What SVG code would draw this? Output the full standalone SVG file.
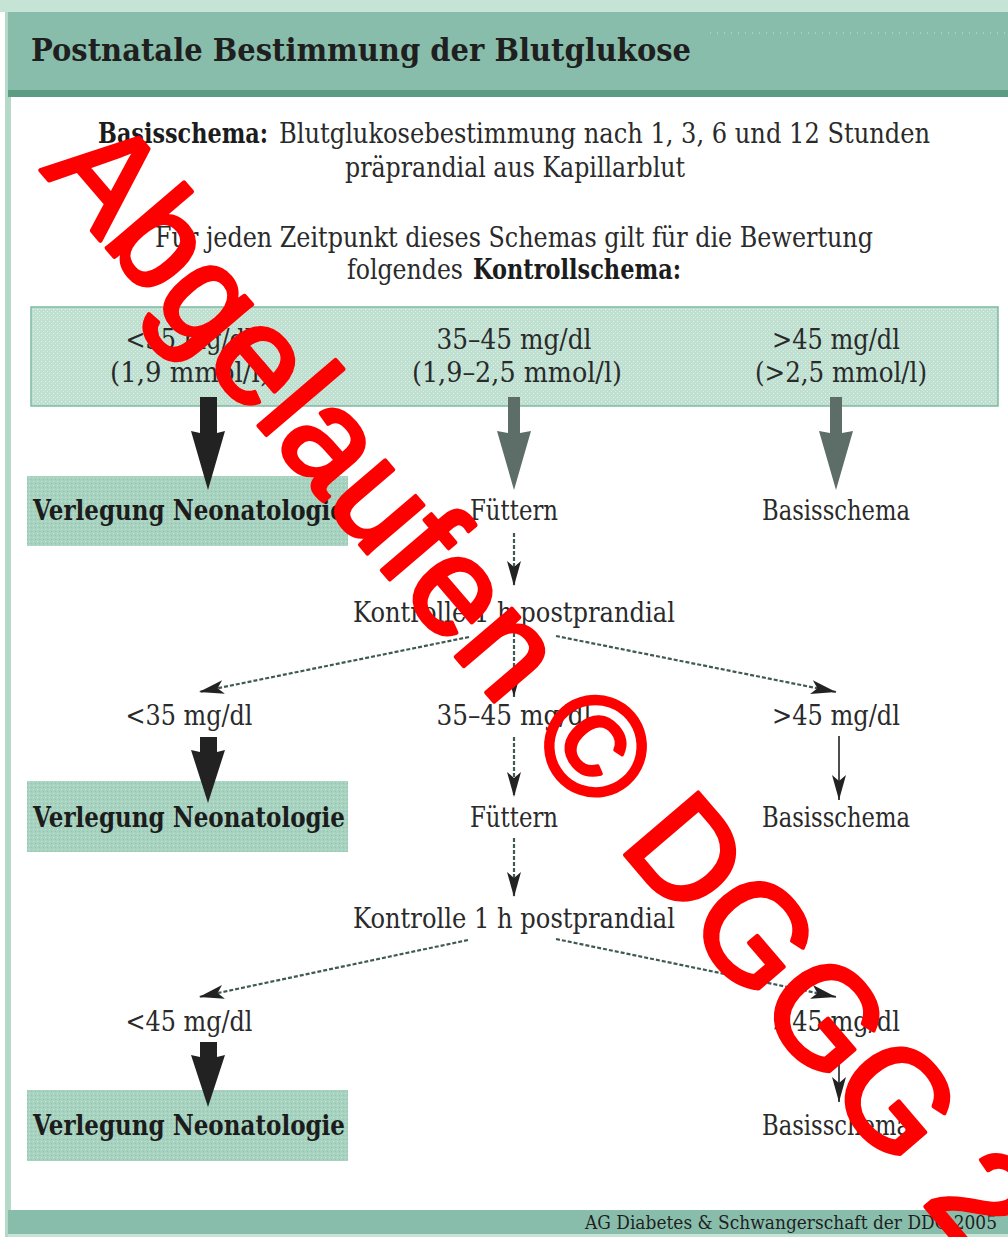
<svg xmlns="http://www.w3.org/2000/svg" width="1008" height="1237" viewBox="0 0 1008 1237">
  <style>
    .t { font-family: "DejaVu Serif", "Liberation Serif", serif; font-size: 28px; fill: #2a2a2a; }
    .c { text-anchor: middle; }
    .b { font-weight: bold; fill: #1c1c1c; }
    .h { font-family: "DejaVu Serif", "Liberation Serif", serif; font-size: 32px; font-weight: bold; fill: #1f1f1f; }
    .f { font-family: "DejaVu Serif", "Liberation Serif", serif; font-size: 19px; fill: #1f1f1f; }
    .dash { stroke: #3f5a52; stroke-width: 2.2; stroke-dasharray: 4 2; fill: none; }
    .thin { stroke: #222; stroke-width: 1.6; fill: none; }
    .dark { fill: #222; }
    .gray { fill: #5d6d68; }
    .wm { font-family: "Liberation Sans", Arial, sans-serif; font-size: 140px; fill: #ff0000; stroke: #ff0000; stroke-width: 4; stroke-linejoin: round; }
  </style>
  <defs>
    <pattern id="dotsLight" width="4" height="4" patternUnits="userSpaceOnUse">
      <rect width="4" height="4" fill="#bfe0d1"/>
      <rect x="1" y="1" width="1" height="1" fill="#e6f4ed"/>
      <rect x="3" y="3" width="1" height="1" fill="#d8ede3"/>
    </pattern>
    <pattern id="dotsBox" width="4" height="4" patternUnits="userSpaceOnUse">
      <rect width="4" height="4" fill="#a7d2bf"/>
      <rect x="1" y="1" width="1" height="1" fill="#c6e4d6"/>
      <rect x="3" y="3" width="1" height="1" fill="#93c4ae"/>
    </pattern>
    <marker id="ah" viewBox="-26 -8 27 16" refX="0" refY="0" markerWidth="27" markerHeight="16" orient="auto" markerUnits="userSpaceOnUse">
      <path d="M0,0 L-25,-7 L-19,0 L-25,7 Z" fill="#222"/>
    </marker>
  </defs>

  <!-- frame -->
  <rect x="0" y="0" width="1008" height="1237" fill="#ffffff"/>
  <rect x="0" y="0" width="1008" height="12" fill="#c6e4d6"/>
  <rect x="5" y="12" width="6" height="1225" fill="#b5d9c9"/>
  <g id="header">
    <rect x="8" y="12" width="1000" height="79" fill="#89bdab"/>
    <rect x="8" y="90" width="1000" height="7" fill="#5b9c83"/>
    <line x1="710" y1="33" x2="1008" y2="33" stroke="#b3d8c8" stroke-width="1.5" stroke-dasharray="1 6"/>
    <text class="h" x="31" y="61" textLength="660" lengthAdjust="spacingAndGlyphs">Postnatale Bestimmung der Blutglukose</text>
  </g>

  <g id="intro">
    <text class="t b" x="98" y="143" textLength="170" lengthAdjust="spacingAndGlyphs">Basisschema:</text>
    <text class="t" x="279" y="143" textLength="651" lengthAdjust="spacingAndGlyphs">Blutglukosebestimmung nach 1, 3, 6 und 12 Stunden</text>
    <text class="t" x="345" y="177" textLength="340" lengthAdjust="spacingAndGlyphs">präprandial aus Kapillarblut</text>
    <text class="t" x="155" y="247" textLength="718" lengthAdjust="spacingAndGlyphs">Für jeden Zeitpunkt dieses Schemas gilt für die Bewertung</text>
    <text class="t" x="347" y="279" textLength="116" lengthAdjust="spacingAndGlyphs">folgendes</text>
    <text class="t b" x="473" y="279" textLength="208" lengthAdjust="spacingAndGlyphs">Kontrollschema:</text>
  </g>

  <g id="kontrollschema">
    <rect x="31" y="307" width="967" height="99" fill="url(#dotsLight)" stroke="#7fb9a1" stroke-width="1.5"/>
    <text class="t c" x="189" y="349" textLength="127" lengthAdjust="spacingAndGlyphs">&lt;35 mg/dl</text>
    <text class="t c" x="190" y="382" textLength="160" lengthAdjust="spacingAndGlyphs">(1,9 mmol/l)</text>
    <text class="t c" x="514" y="349" textLength="155" lengthAdjust="spacingAndGlyphs">35–45 mg/dl</text>
    <text class="t c" x="517" y="382" textLength="210" lengthAdjust="spacingAndGlyphs">(1,9–2,5 mmol/l)</text>
    <text class="t c" x="836" y="349" textLength="128" lengthAdjust="spacingAndGlyphs">&gt;45 mg/dl</text>
    <text class="t c" x="841" y="382" textLength="172" lengthAdjust="spacingAndGlyphs">(&gt;2,5 mmol/l)</text>
  </g>

  <g id="verlegung1">
    <rect x="27" y="476" width="321" height="70" fill="url(#dotsBox)"/>
    <text class="t b" x="33" y="520" textLength="312" lengthAdjust="spacingAndGlyphs">Verlegung Neonatologie</text>
  </g>
  <g id="fuettern1"><text class="t c" x="514" y="520" textLength="88" lengthAdjust="spacingAndGlyphs">Füttern</text></g>
  <g id="basisschema1"><text class="t c" x="836" y="520" textLength="148" lengthAdjust="spacingAndGlyphs">Basisschema</text></g>

  <g id="kontrolle1"><text class="t c" x="514" y="622" textLength="322" lengthAdjust="spacingAndGlyphs">Kontrolle 1 h postprandial</text></g>

  <g id="lt35"><text class="t c" x="189" y="725" textLength="127" lengthAdjust="spacingAndGlyphs">&lt;35 mg/dl</text></g>
  <g id="r3545"><text class="t c" x="514" y="725" textLength="155" lengthAdjust="spacingAndGlyphs">35–45 mg/dl</text></g>
  <g id="gt45a"><text class="t c" x="836" y="725" textLength="128" lengthAdjust="spacingAndGlyphs">&gt;45 mg/dl</text></g>

  <g id="verlegung2">
    <rect x="27" y="781" width="321" height="71" fill="url(#dotsBox)"/>
    <text class="t b" x="33" y="827" textLength="312" lengthAdjust="spacingAndGlyphs">Verlegung Neonatologie</text>
  </g>
  <g id="fuettern2"><text class="t c" x="514" y="827" textLength="88" lengthAdjust="spacingAndGlyphs">Füttern</text></g>
  <g id="basisschema2"><text class="t c" x="836" y="827" textLength="148" lengthAdjust="spacingAndGlyphs">Basisschema</text></g>

  <g id="kontrolle2"><text class="t c" x="514" y="928" textLength="322" lengthAdjust="spacingAndGlyphs">Kontrolle 1 h postprandial</text></g>

  <g id="lt45"><text class="t c" x="189" y="1031" textLength="127" lengthAdjust="spacingAndGlyphs">&lt;45 mg/dl</text></g>
  <g id="gt45b"><text class="t c" x="836" y="1031" textLength="128" lengthAdjust="spacingAndGlyphs">&gt;45 mg/dl</text></g>

  <g id="verlegung3">
    <rect x="27" y="1090" width="321" height="71" fill="url(#dotsBox)"/>
    <text class="t b" x="33" y="1135" textLength="312" lengthAdjust="spacingAndGlyphs">Verlegung Neonatologie</text>
  </g>
  <g id="basisschema3"><text class="t c" x="836" y="1135" textLength="148" lengthAdjust="spacingAndGlyphs">Basisschema</text></g>

  <g id="connectors">
    <polygon class="dark" points="200,397 217,397 217,433 225,431 208,490 191,431 200,433"/>
    <polygon class="gray" points="508,397 520,397 520,433 531,431 514,490 497,431 508,433"/>
    <polygon class="gray" points="830,397 842,397 842,433 853,431 836,490 819,431 830,433"/>
    <line class="dash" x1="514" y1="533" x2="514" y2="586" marker-end="url(#ah)"/>
    <line class="dash" x1="469" y1="637" x2="199" y2="692" marker-end="url(#ah)"/>
    <line class="dash" x1="514" y1="633" x2="514" y2="697" marker-end="url(#ah)"/>
    <line class="dash" x1="556" y1="636" x2="836" y2="692" marker-end="url(#ah)"/>
    <polygon class="dark" points="200,737 217,737 217,752 225,750 208,803 191,750 200,752"/>
    <line class="dash" x1="514" y1="737" x2="514" y2="797" marker-end="url(#ah)"/>
    <line class="thin" x1="839" y1="736" x2="839" y2="800" marker-end="url(#ah)"/>
    <line class="dash" x1="514" y1="838" x2="514" y2="897" marker-end="url(#ah)"/>
    <line class="dash" x1="468" y1="940" x2="199" y2="997" marker-end="url(#ah)"/>
    <line class="dash" x1="556" y1="939" x2="836" y2="997" marker-end="url(#ah)"/>
    <polygon class="dark" points="200,1042 217,1042 217,1057 225,1055 208,1107 191,1055 200,1057"/>
    <line class="thin" x1="839" y1="1040" x2="839" y2="1102" marker-end="url(#ah)"/>
  </g>

  <g id="footer">
    <rect x="8" y="1210" width="1000" height="24" fill="#89bdab"/>
    <rect x="8" y="1234" width="1000" height="3" fill="#c6e4d6"/>
    <text class="f" x="585" y="1229" textLength="412" lengthAdjust="spacingAndGlyphs">AG Diabetes &amp; Schwangerschaft der DDG 2005</text>
  </g>

  <text class="wm" transform="translate(40,170) rotate(49.5)">Abgelaufen © DGGG 2</text>
</svg>
